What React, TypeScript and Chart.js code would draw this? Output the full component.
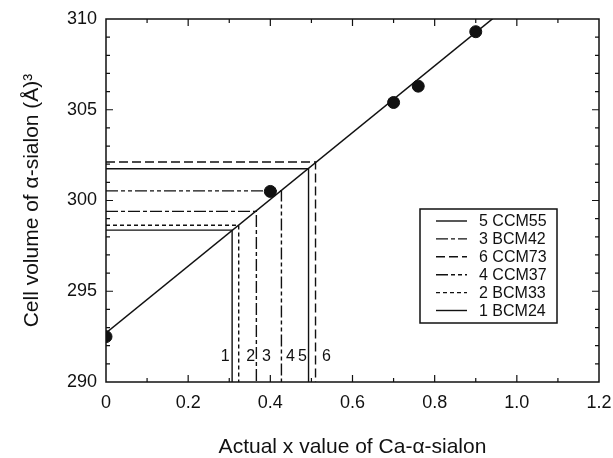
import React, { useEffect, useRef } from 'react';
import { Chart, registerables } from 'chart.js';
Chart.register(...registerables);

// Measured cell volumes
const measuredX = [0, 0.4, 0.7, 0.76, 0.9];
const measuredV = [292.5, 300.5, 305.4, 306.3, 309.3];

// Linear fit (end points)
const fitX = [0, 1.0];
const fitV = [292.7, 311.1];

// Samples
const sampleNames = ['1 BCM24', '2 BCM33', '3 BCM42', '4 CCM37', '5 CCM55', '6 CCM73'];
const sampleNums = ['1', '2', '3', '4', '5', '6'];
const sampleX = [0.307, 0.323, 0.366, 0.427, 0.493, 0.51];
const sampleV = [298.37, 298.64, 299.4, 300.53, 301.75, 302.12];
const legendOrder = [4, 2, 5, 3, 1, 0];

// Axes
const xTicks = [0, 0.2, 0.4, 0.6, 0.8, 1.0, 1.2];
const xTickLabels = ['0', '0.2', '0.4', '0.6', '0.8', '1.0', '1.2'];
const yTicks = [290, 295, 300, 305, 310];
const yTickLabels = ['290', '295', '300', '305', '310'];
const xMinorStep = 0.1;
const yMinorStep = 1;
const xTitle = 'Actual x value of Ca-\u03b1-sialon';
const yTitle = 'Cell volume of \u03b1-sialon (\u00c5)\u00b3';

// styles (not data)
const sampleDash: number[][] = [[], [4, 3], [12, 3, 4, 3], [12, 3, 4, 3, 4, 3], [], [9, 4]];
const labelOffset = [-7, 12, 10, 9, -6, 11];
const INK = '#111';
const FONT = '"Liberation Sans", Arial, sans-serif';

const decorPlugin = {
  id: 'decor',
  afterDatasetsDraw(chart: any) {
    const { ctx, chartArea, scales } = chart;
    const xs = scales.x;
    const ys = scales.y;
    const { left, right, top, bottom } = chartArea;
    ctx.save();
    ctx.strokeStyle = INK;
    ctx.lineWidth = 1.5;
    ctx.setLineDash([]);
    ctx.strokeRect(left, top, right - left, bottom - top);

    // inward ticks on all four sides
    ctx.lineWidth = 1.2;
    const x0 = xTicks[0];
    const x1 = xTicks[xTicks.length - 1];
    const nX = Math.round((x1 - x0) / xMinorStep);
    for (let i = 1; i < nX; i++) {
      const v = x0 + i * xMinorStep;
      const major = i % 2 === 0;
      const len = major ? 7 : 4;
      const px = xs.getPixelForValue(v);
      ctx.beginPath();
      ctx.moveTo(px, bottom);
      ctx.lineTo(px, bottom - len);
      ctx.moveTo(px, top);
      ctx.lineTo(px, top + len);
      ctx.stroke();
    }
    const y0 = yTicks[0];
    const y1 = yTicks[yTicks.length - 1];
    const nY = Math.round((y1 - y0) / yMinorStep);
    for (let i = 1; i < nY; i++) {
      const v = y0 + i * yMinorStep;
      const major = i % 5 === 0;
      const len = major ? 7 : 4;
      const py = ys.getPixelForValue(v);
      ctx.beginPath();
      ctx.moveTo(left, py);
      ctx.lineTo(left + len, py);
      ctx.moveTo(right, py);
      ctx.lineTo(right - len, py);
      ctx.stroke();
    }

    // sample number labels
    ctx.fillStyle = INK;
    ctx.font = `16px ${FONT}`;
    ctx.textAlign = 'center';
    ctx.textBaseline = 'middle';
    sampleNums.forEach((n, i) => {
      ctx.fillText(n, xs.getPixelForValue(sampleX[i]) + labelOffset[i], bottom - 25);
    });

    // legend box
    const bx = 420, by = 209, bw = 137, bh = 114;
    ctx.lineWidth = 1.5;
    ctx.strokeRect(bx, by, bw, bh);
    ctx.font = `16px ${FONT}`;
    ctx.textAlign = 'left';
    legendOrder.forEach((idx, r) => {
      const yy = by + 12 + r * 17.9;
      ctx.lineWidth = 1.4;
      ctx.setLineDash(sampleDash[idx]);
      ctx.beginPath();
      ctx.moveTo(436, yy);
      ctx.lineTo(467, yy);
      ctx.stroke();
      ctx.setLineDash([]);
      ctx.fillText(sampleNames[idx], 479, yy + 1);
    });
    ctx.restore();
  },
};

export default function App() {
  const ref = useRef<HTMLCanvasElement>(null);
  useEffect(() => {
    if (!ref.current) return;
    const sampleSets = sampleNames.map((name, i) => ({
      label: name,
      data: [
        { x: xTicks[0], y: sampleV[i] },
        { x: sampleX[i], y: sampleV[i] },
        { x: sampleX[i], y: yTicks[0] },
      ],
      showLine: true,
      borderColor: INK,
      borderWidth: 1.4,
      borderDash: sampleDash[i],
      pointRadius: 0,
      fill: false,
    }));
    const chart = new Chart(ref.current, {
      type: 'scatter',
      data: {
        datasets: [
          {
            label: 'measured',
            data: measuredX.map((x, i) => ({ x, y: measuredV[i] })),
            backgroundColor: INK,
            borderColor: INK,
            pointRadius: 6,
            pointHoverRadius: 6,
            showLine: false,
          },
          {
            label: 'fit',
            data: fitX.map((x, i) => ({ x, y: fitV[i] })),
            showLine: true,
            borderColor: INK,
            borderWidth: 1.5,
            pointRadius: 0,
          },
          ...sampleSets,
        ],
      },
      options: {
        animation: false,
        responsive: true,
        maintainAspectRatio: false,
        layout: { padding: { top: 19, right: 14, left: 0, bottom: 0 } },
        plugins: { legend: { display: false }, tooltip: { enabled: false } },
        scales: {
          x: {
            type: 'linear',
            min: xTicks[0],
            max: xTicks[xTicks.length - 1],
            afterBuildTicks: (s: any) => {
              s.ticks = xTicks.map((v) => ({ value: v }));
            },
            afterFit: (s: any) => {
              s.height = 76;
              s.paddingLeft = 0;
              s.paddingRight = 0;
            },
            grid: { display: false, drawTicks: false },
            border: { display: false },
            ticks: {
              padding: 10,
              color: INK,
              font: { family: FONT, size: 18 },
              callback: (_v: any, i: number) => xTickLabels[i],
              maxRotation: 0,
            },
            title: {
              display: true,
              text: xTitle,
              color: INK,
              font: { family: FONT, size: 21, lineHeight: 1.0 },
              padding: { top: 0, bottom: 0 },
            },
          },
          y: {
            type: 'linear',
            min: yTicks[0],
            max: yTicks[yTicks.length - 1],
            afterBuildTicks: (s: any) => {
              s.ticks = yTicks.map((v) => ({ value: v }));
            },
            afterFit: (s: any) => {
              s.width = 106;
              s.paddingTop = 0;
              s.paddingBottom = 0;
            },
            grid: { display: false, drawTicks: false },
            border: { display: false },
            ticks: {
              padding: 9,
              color: INK,
              font: { family: FONT, size: 18 },
              callback: (_v: any, i: number) => yTickLabels[i],
            },
            title: {
              display: true,
              text: yTitle,
              color: INK,
              font: { family: FONT, size: 21 },
              padding: { top: 20, bottom: 0 },
            },
          },
        },
      },
      plugins: [decorPlugin],
    });
    return () => chart.destroy();
  }, []);
  return (
    <div style={{ position: 'fixed', left: 0, top: 0, width: 613, height: 458, background: '#fff' }}>
      <canvas ref={ref} />
    </div>
  );
}
